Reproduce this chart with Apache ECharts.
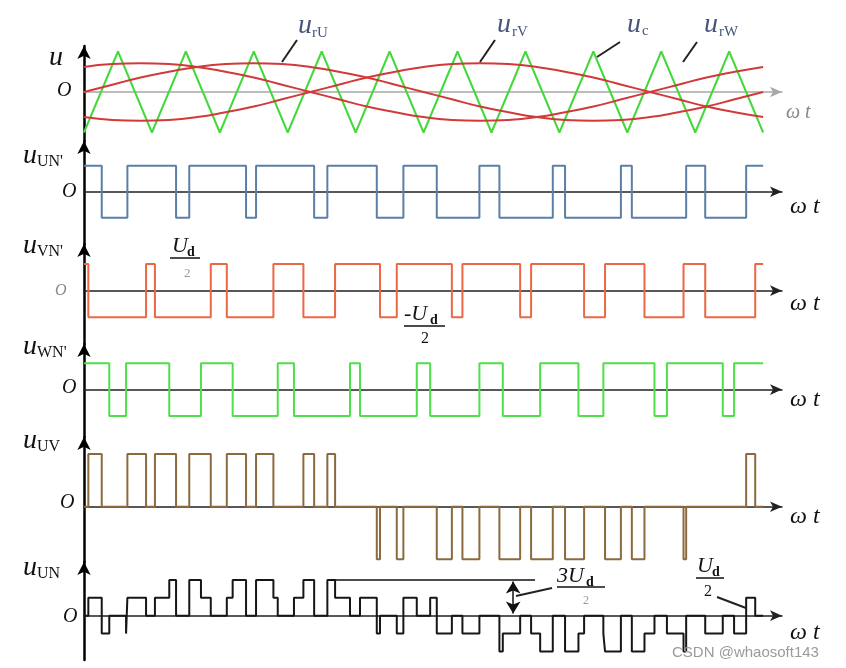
<!DOCTYPE html>
<html><head><meta charset="utf-8">
<script src="https://cdn.jsdelivr.net/npm/echarts@6/dist/echarts.min.js"></script>
<style>html,body{margin:0;padding:0;background:#fff}#c{width:846px;height:668px}</style>
</head><body><div id="c"></div>
<script>
// ---- data (angles in degrees of ωt, values in units of carrier amplitude / Ud/2) ----
const sineDeg = [0,15,30,45,60,75,90,105,120,135,150,165,180,195,210,225,240,255,270,285,300,315,330,345,360];
const refU = [0,0.18,0.36,0.50,0.62,0.69,0.71,0.69,0.62,0.50,0.36,0.18,0,-0.18,-0.36,-0.50,-0.62,-0.69,-0.71,-0.69,-0.62,-0.50,-0.36,-0.18,0];
const refV = [-0.62,-0.69,-0.71,-0.69,-0.62,-0.50,-0.36,-0.18,0,0.18,0.36,0.50,0.62,0.69,0.71,0.69,0.62,0.50,0.36,0.18,0,-0.18,-0.36,-0.50,-0.62];
const refW = [0.62,0.69,0.71,0.69,0.62,0.50,0.36,0.18,0,-0.18,-0.36,-0.50,-0.62,-0.69,-0.71,-0.69,-0.62,-0.50,-0.36,-0.18,0,0.18,0.36,0.50,0.62];
const carrierDeg = [0,18,36,54,72,90,108,126,144,162,180,198,216,234,252,270,288,306,324,342,360];
const carrierVal = [-1,1,-1,1,-1,1,-1,1,-1,1,-1,1,-1,1,-1,1,-1,1,-1,1,-1];
// switching instants (deg); each one toggles the level
const startUN = 1, startVN = 1, startWN = 1;
const edgesUN = [9.4,23.0,48.8,55.8,85.9,91.2,122.0,129.0,155.2,169.3,187.0,209.6,220.2,248.5,255.0,284.6,290.4,319.2,329.3,351.0];
const edgesVN = [2.3,32.9,37.6,67.2,75.7,100.4,116.3,133.1,156.9,165.8,195.0,200.6,231.2,237.0,265.1,276.2,297.1,317.8,329.3,355.8];
const edgesWN = [13.4,22.3,45.2,62.0,78.8,102.7,111.3,141.0,146.3,176.4,183.5,209.6,222.0,241.8,262.1,275.3,302.4,309.0,338.6,344.6];
const endDeg = 360;
const refLineStart = 130.4, refLineEnd = 239.1, refLineLevel = 4/3, arrowDeg = 227.5;

// ---- build tables ----
function sAt(edges, start, t){ let s = start; for (const e of edges){ if (e <= t) s = -s; else break; } return s; }
function stepSeries(edges, start){
  const pts = [[0, start]]; let s = start;
  for (const e of edges){ pts.push([e, s]); s = -s; pts.push([e, s]); }
  pts.push([endDeg, s]); return pts;
}
function derivedSeries(fn){
  let all = [0, ...edgesUN, ...edgesVN, ...edgesWN, endDeg].sort((a,b)=>a-b);
  all = all.filter((v,i)=> i===0 || v - all[i-1] > 1e-9);
  const pts = []; let prev = null;
  for (let i = 0; i < all.length - 1; i++){
    const a = all[i], b = all[i+1], m = (a+b)/2;
    const v = Math.round(fn(sAt(edgesUN,startUN,m), sAt(edgesVN,startVN,m), sAt(edgesWN,startWN,m))*1000)/1000;
    if (prev === null) pts.push([a, v]);
    else if (v !== prev){ pts.push([a, prev]); pts.push([a, v]); }
    prev = v;
  }
  pts.push([endDeg, prev]); return pts;
}
const zip = (xs, ys) => xs.map((x,i)=>[x, ys[i]]);

// ---- layout ----
const panels = [
  {top:46,  h:95,  min:-1.21, max:1.136, xc:'#a8a8a8'},
  {top:141, h:103, min:-2.01, max:1.95,  xc:'#222'},
  {top:244, h:100, min:-2.0,  max:1.75,  xc:'#222'},
  {top:344, h:93,  min:-1.80, max:1.73,  xc:'#222'},
  {top:437, h:125, min:-2.10, max:2.65,  xc:'#222'},
  {top:562, h:98,  min:-1.65, max:2.0,   xc:'#222'}
];
const grid = panels.map(p=>({left:84, top:p.top, width:698, height:p.h}));
const xAxis = panels.map((p,i)=>({gridIndex:i, type:'value', min:0, max:370,
  axisLine:{show:true, onZero:true, symbol:['none','arrow'], symbolSize:[8,12], lineStyle:{color:p.xc, width:1.5}},
  axisTick:{show:false}, axisLabel:{show:false}, splitLine:{show:false}}));
const yAxis = panels.map((p,i)=>({gridIndex:i, type:'value', min:p.min, max:p.max,
  axisLine:{show:true, symbol:['none','arrow'], symbolSize:[10,13], lineStyle:{color:'#000', width:2.5}},
  axisTick:{show:false}, axisLabel:{show:false}, splitLine:{show:false}}));

function line(i, data, color, extra){
  return Object.assign({type:'line', xAxisIndex:i, yAxisIndex:i, data, showSymbol:false, symbol:'none',
    lineStyle:{color, width:2}, silent:true, animation:false, z:3}, extra||{});
}
const series = [
  line(0, zip(carrierDeg, carrierVal), '#43d93a'),
  line(0, zip(sineDeg, refU), '#d23a3a', {smooth:true}),
  line(0, zip(sineDeg, refV), '#d23a3a', {smooth:true}),
  line(0, zip(sineDeg, refW), '#d23a3a', {smooth:true}),
  line(1, stepSeries(edgesUN, startUN), '#5b7fa6'),
  line(2, stepSeries(edgesVN, startVN), '#ec6844'),
  line(3, stepSeries(edgesWN, startWN), '#4de04a'),
  line(4, derivedSeries((a,b,c)=>a-b), '#8a6a3e'),
  line(5, derivedSeries((a,b,c)=>(2*a-b-c)/3), '#161616', {
    markLine:{silent:true, animation:false, label:{show:false},
      data:[
        [{coord:[refLineStart, refLineLevel], symbol:'none'}, {coord:[refLineEnd, refLineLevel], symbol:'none'}],
        [{coord:[arrowDeg, refLineLevel-0.06], symbol:'arrow', symbolSize:[11,12]}, {coord:[arrowDeg, 0.08], symbol:'arrow', symbolSize:[11,12]}]
      ],
      lineStyle:{color:'#111', width:1.5, type:'solid'}}
  })
];

// ---- annotations ----
const SERIF = '"Liberation Serif","DejaVu Serif",serif';
function T(x, y, text, size, o){ o = o||{};
  return {type:'text', x, y, z:100, silent:true, style:{text,
    font:(o.italic===false?'':'italic ')+(o.bold?'bold ':'')+size+'px '+(o.family||SERIF),
    fill:o.fill||'#111', align:o.align||'left', verticalAlign:'middle'}};
}
function L(x1,y1,x2,y2,c,w){ return {type:'line', z:100, silent:true, shape:{x1,y1,x2,y2}, style:{stroke:c||'#111', lineWidth:w||1.5}}; }
const LC = '#45557c';
const graphic = [
  T(298,26,'u',28,{fill:LC}), T(312,33,'rU',15,{italic:false,fill:LC}),
  T(497,25,'u',28,{fill:LC}), T(512,32,'rV',15,{italic:false,fill:LC}),
  T(627,25,'u',28,{fill:LC}), T(642,31,'c',15,{italic:false,fill:LC}),
  T(704,25,'u',28,{fill:LC}), T(719,32,'rW',15,{italic:false,fill:LC}),
  L(297,40,282,62,'#222',2), L(495,40,480,62,'#222',2), L(620,42,597,57,'#222',2), L(697,42,683,62,'#222',2),
  T(49,58,'u',28), T(57,91,'O',20),
  T(23,156,'u',28), T(37,162,"UN'",16,{italic:false}), T(62,192,'O',20),
  T(23,246,'u',28), T(37,252,"VN'",16,{italic:false}), T(55,291,'O',16,{fill:'#888'}),
  T(23,347,'u',28), T(37,353,"WN'",16,{italic:false}), T(62,388,'O',20),
  T(23,441,'u',28), T(37,447,'UV',16,{italic:false}), T(60,503,'O',20),
  T(23,568,'u',28), T(37,574,'UN',16,{italic:false}), T(63,617,'O',20),
  T(786,113,'ω t',20,{fill:'#888'}),
  T(790,207,'ω t',24), T(790,304,'ω t',24), T(790,400,'ω t',24), T(790,517,'ω t',24), T(790,633,'ω t',24),
  T(172,246,'U',22), T(187,252,'d',14,{italic:false,bold:true}), L(170,258,200,258), T(184,274,'2',13,{italic:false,fill:'#999'}),
  T(404,314,'-U',22), T(430,320,'d',14,{italic:false,bold:true}), L(404,326,445,326), T(421,339,'2',16,{italic:false}),
  T(557,576,'3U',22), T(586,582,'d',14,{italic:false,bold:true}), L(557,587,605,587), T(583,601,'2',12,{italic:false,fill:'#999'}),
  T(697,566,'U',22), T(712,572,'d',14,{italic:false,bold:true}), L(696,578,724,578), T(704,592,'2',16,{italic:false}),
  L(717,597,746,608,'#222',2), L(552,588,516,596,'#222',2),
  T(672,653,'CSDN @whaosoft143',15,{italic:false,fill:'#9a9a9a',family:'"Liberation Sans",Arial,sans-serif'})
];

const chart = echarts.init(document.getElementById('c'));
chart.setOption({animation:false, backgroundColor:'#fff', grid, xAxis, yAxis, series, graphic});
</script>
</body></html>
